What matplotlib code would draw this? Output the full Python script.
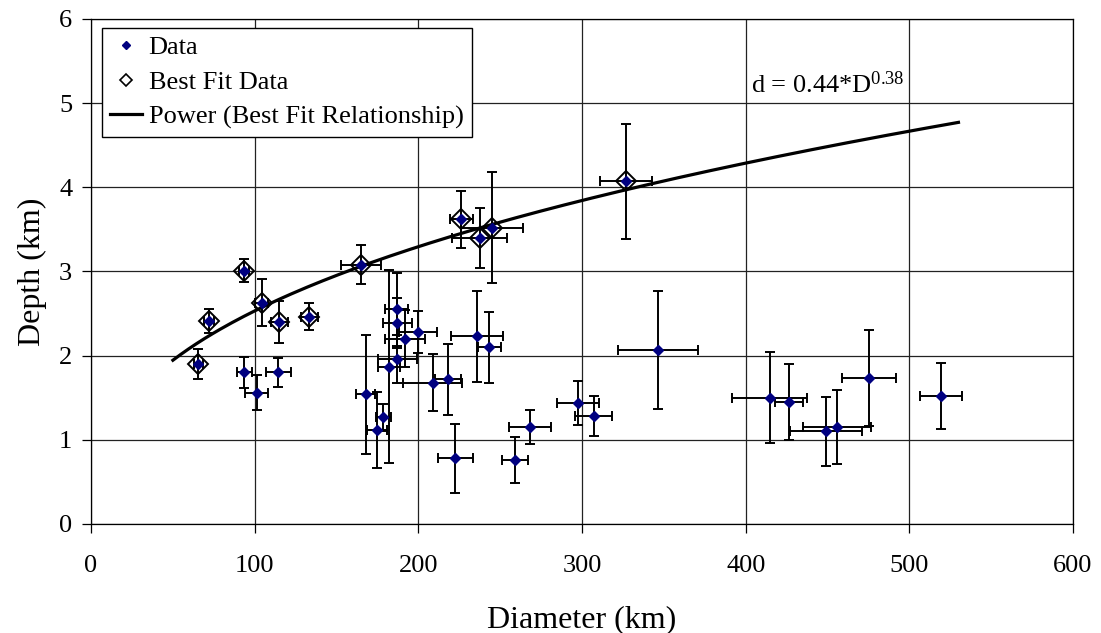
import matplotlib
matplotlib.use("Agg")
import matplotlib.pyplot as plt
import numpy as np

# crater diameter (km), depth (km) and their errors
diam = [65.6, 72.2, 93.7, 104.3, 115.1, 133.4, 165.0, 226.2, 237.4, 244.9, 326.8,
        93.7, 101.3, 114.5, 167.7, 174.6, 178.5, 182.0, 186.8, 187.2, 187.2,
        191.9, 199.7, 208.8, 218.2, 222.5, 235.7, 243.4, 258.8, 268.3, 297.5,
        307.0, 346.2, 414.6, 426.7, 448.8, 455.8, 475.2, 519.3]
depth = [1.90, 2.41, 3.01, 2.63, 2.40, 2.46, 3.08, 3.62, 3.40, 3.52, 4.07,
         1.80, 1.56, 1.80, 1.54, 1.12, 1.27, 1.87, 2.55, 2.39, 1.96,
         2.20, 2.28, 1.68, 1.72, 0.78, 2.23, 2.10, 0.76, 1.15, 1.44,
         1.28, 2.07, 1.50, 1.45, 1.10, 1.15, 1.73, 1.52]
diam_err = [3, 3, 3, 4, 5, 5, 12, 7, 17, 19, 16,
            4.5, 7, 7.5, 5.6, 6, 4.5, 6.5, 7, 9, 12,
            12, 11.7, 18, 8, 10.7, 16, 7, 8, 13, 13,
            11, 24.5, 23, 8.5, 22, 21, 16.6, 13]
depth_err = [0.18, 0.14, 0.14, 0.28, 0.25, 0.16, 0.23, 0.34, 0.36, 0.66, 0.68,
             0.19, 0.21, 0.17, 0.71, 0.45, 0.16, 1.15, 0.43, 0.30, 0.29,
             0.34, 0.25, 0.34, 0.42, 0.41, 0.54, 0.42, 0.27, 0.20, 0.26,
             0.24, 0.70, 0.54, 0.45, 0.41, 0.44, 0.57, 0.39]

# the points used for the fit
best_diam = [65.6, 72.2, 93.7, 104.3, 115.1, 133.4, 165.0, 226.2, 237.4, 244.9, 326.8]
best_depth = [1.90, 2.41, 3.01, 2.63, 2.40, 2.46, 3.08, 3.62, 3.40, 3.52, 4.07]

# power law d = a * D^b
fit_a = 0.44
fit_b = 0.38
fit_range = [50, 530]

plt.rcParams['font.family'] = ['Liberation Serif', 'DejaVu Serif']
plt.rcParams['mathtext.fontset'] = 'custom'
plt.rcParams['mathtext.rm'] = 'Liberation Serif'
plt.rcParams['mathtext.it'] = 'Liberation Serif:italic'

fig = plt.figure(figsize=(11.01, 6.33), dpi=100)
ax = fig.add_axes([0.0827, 0.1722, 0.8919, 0.7978])

ax.errorbar(diam, depth, xerr=diam_err, yerr=depth_err, fmt='none',
            ecolor='black', elinewidth=1.4, capsize=3.6, capthick=1.4, zorder=3)
ax.plot(diam, depth, 'D', color='#000080', markersize=4.6, linestyle='none',
        label='Data', zorder=5)
ax.plot(best_diam, best_depth, 'D', markerfacecolor='none', markeredgecolor='black',
        markeredgewidth=1.4, markersize=10, linestyle='none',
        label='Best Fit Data', zorder=4)

xs = np.linspace(fit_range[0], fit_range[1], 200)
ax.plot(xs, fit_a * xs ** fit_b, color='black', linewidth=2.3,
        label='Power (Best Fit Relationship)', zorder=4)

ax.text(403, 5.12, r'd = 0.44*D$^{0.38}$', fontsize=19, va='baseline', ha='left')

ax.set_xlim(0, 600)
ax.set_ylim(0, 6)
ax.set_xticks(range(0, 601, 100))
ax.set_yticks(range(0, 7))
ax.grid(True, color='#222222', linewidth=0.9)
ax.set_axisbelow(True)
ax.tick_params(direction='out', length=6.5, width=0.9, labelsize=19)
ax.tick_params(axis='x', pad=16)
ax.tick_params(axis='y', pad=7)
for s in ax.spines.values():
    s.set_linewidth(0.9)

ax.set_xlabel('Diameter (km)', fontsize=23, labelpad=20)
ax.set_ylabel('Depth (km)', fontsize=23, labelpad=9)

leg = ax.legend(loc='upper left', bbox_to_anchor=(0.011, 0.983), borderaxespad=0,
                fontsize=19, fancybox=False, edgecolor='black', framealpha=1,
                handlelength=1.2, handletextpad=0.25, labelspacing=0.42,
                borderpad=0.32)
leg.get_frame().set_linewidth(1.0)
leg.legend_handles[0].set_markersize(3.8)
leg.legend_handles[1].set_markersize(6.5)
leg.legend_handles[1].set_markeredgewidth(1.2)

fig.savefig('out.png', dpi=100)
